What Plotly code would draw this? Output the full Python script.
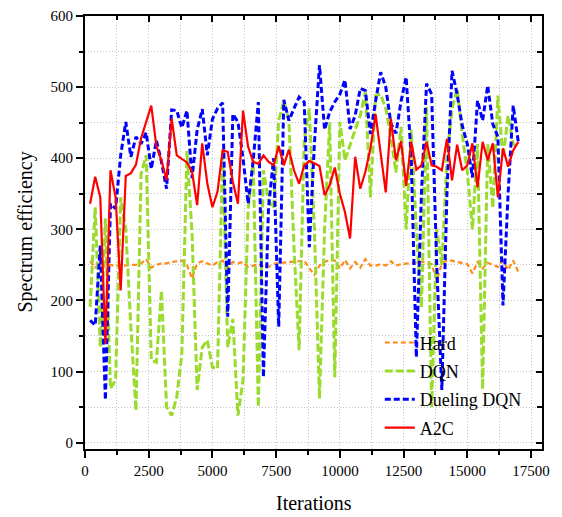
import plotly.graph_objects as go

# Iteration index (sampled every 200 iterations)
iterations = [200 * k for k in range(1, 86)]

hard = [255, 246, 252, 248, 250, 248, 250, 249, 250, 250,
        252, 258, 246, 250, 252, 252, 254, 255, 256, 250,
        231, 252, 255, 252, 249, 254, 256, 246, 254, 252,
        254, 247, 249, 251, 247, 247, 251, 253, 253, 254,
        254, 255, 256, 245, 236, 249, 254, 257, 256, 245,
        257, 245, 254, 246, 258, 249, 249, 251, 249, 255,
        249, 251, 252, 253, 254, 254, 253, 251, 228, 252,
        256, 256, 254, 252, 251, 238, 254, 245, 253, 250,
        247, 256, 243, 256, 240]

dqn = [191, 331, 134, 315, 76, 88, 345, 300, 162, 45,
       378, 404, 116, 113, 214, 50, 38, 64, 125, 410,
       294, 74, 134, 144, 106, 104, 411, 134, 174, 38,
       88, 327, 397, 50, 383, 340, 330, 453, 481, 453,
       275, 130, 425, 470, 300, 62, 300, 450, 92, 451,
       397, 420, 440, 460, 493, 345, 488, 490, 470, 430,
       380, 444, 300, 440, 300, 190, 472, 50, 300, 250,
       400, 470, 498, 434, 380, 300, 420, 75, 420, 330,
       488, 400, 460, 420, 416]

dueling_dqn = [172, 165, 277, 60, 336, 329, 404, 451, 402, 430,
               420, 436, 385, 425, 395, 357, 468, 467, 443, 467,
               372, 440, 469, 404, 455, 470, 478, 177, 462, 451,
               400, 336, 397, 479, 92, 330, 400, 163, 482, 453,
               470, 486, 479, 275, 420, 531, 440, 465, 479, 490,
               510, 441, 460, 498, 495, 434, 480, 521, 500, 449,
               435, 480, 514, 400, 120, 350, 505, 490, 250, 74,
               350, 523, 490, 446, 420, 373, 481, 453, 502, 448,
               430, 193, 350, 474, 423]

a2c = [336, 374, 345, 139, 383, 345, 214, 375, 379, 391,
       428, 451, 474, 417, 397, 369, 456, 404, 399, 394,
       381, 334, 421, 364, 331, 353, 411, 409, 367, 336,
       467, 416, 395, 392, 404, 395, 390, 417, 390, 412,
       383, 364, 390, 396, 393, 389, 348, 362, 387, 350,
       324, 287, 402, 357, 381, 414, 462, 406, 352, 456,
       397, 424, 361, 423, 384, 390, 423, 390, 388, 383,
       427, 369, 419, 383, 390, 421, 359, 423, 397, 421,
       345, 414, 388, 411, 423]

x_range = [0, 17930]
y_range = [-9, 600]

FONT = "Liberation Serif"
GRID = "#c4c4c4"
GRID_DASH = "1px,2px"

fig = go.Figure()

fig.add_trace(go.Scatter(x=iterations, y=hard, name="Hard", mode="lines",
                         legendgroup="a",
                         line=dict(color="#FF8C1A", width=2.2, dash="5px,3px")))
fig.add_trace(go.Scatter(x=iterations, y=dqn, name="DQN", mode="lines",
                         legendgroup="b",
                         line=dict(color="#9ADB2E", width=3, dash="8px,3px")))
fig.add_trace(go.Scatter(x=iterations, y=dueling_dqn, name="Dueling DQN", mode="lines",
                         legendgroup="c",
                         line=dict(color="#0000FF", width=3, dash="6px,3px")))
fig.add_trace(go.Scatter(x=iterations, y=a2c, name="A2C", mode="lines",
                         legendgroup="d",
                         line=dict(color="#FF0000", width=2.2)))

# empty trace that activates the mirrored top/right axes
fig.add_trace(go.Scatter(x=[], y=[], xaxis="x2", yaxis="y2", showlegend=False,
                         hoverinfo="skip"))

axis_common = dict(showline=True, linecolor="black", linewidth=2,
                   zeroline=False, tickcolor="black", automargin=False)

fig.update_layout(
    width=562, height=517,
    margin=dict(l=85, r=20, t=16, b=68),
    paper_bgcolor="white", plot_bgcolor="white",
    font=dict(family=FONT, size=15, color="black"),
    showlegend=True,
    legend=dict(x=0.645, y=0.288, xanchor="left", yanchor="top",
                bgcolor="rgba(0,0,0,0)", borderwidth=0,
                font=dict(family=FONT, size=18, color="black"),
                tracegroupgap=2, traceorder="grouped"),
    xaxis=dict(range=x_range, dtick=2500, tick0=0, tickformat="d",
               ticks="outside", ticklen=7,
               tickwidth=1.5, showgrid=True, gridcolor=GRID, griddash=GRID_DASH,
               gridwidth=1,
               minor=dict(dtick=1250, ticks="outside", ticklen=4, tickcolor="black",
                          showgrid=True, gridcolor=GRID, griddash=GRID_DASH),
               tickfont=dict(family=FONT, size=15),
               **axis_common),
    yaxis=dict(range=y_range, dtick=100, tick0=0, tickformat="d",
               ticks="outside", ticklen=7,
               tickwidth=1.5, showgrid=True, gridcolor=GRID, griddash=GRID_DASH,
               gridwidth=1,
               minor=dict(dtick=50, ticks="outside", ticklen=4, tickcolor="black",
                          showgrid=True, gridcolor=GRID, griddash=GRID_DASH),
               tickfont=dict(family=FONT, size=15),
               **axis_common),
    xaxis2=dict(range=x_range, overlaying="x", side="top", anchor="y2",
                dtick=2500, tick0=0, ticks="inside", ticklen=6, tickwidth=1.5,
                showticklabels=False, showgrid=False,
                minor=dict(dtick=1250, ticks="inside", ticklen=4, tickcolor="black"),
                **axis_common),
    yaxis2=dict(range=y_range, overlaying="y", side="right", anchor="x2",
                dtick=100, tick0=0, ticks="inside", ticklen=6, tickwidth=1.5,
                showticklabels=False, showgrid=False,
                minor=dict(dtick=50, ticks="inside", ticklen=5, tickcolor="black"),
                **axis_common),
)

# axis titles
fig.add_annotation(text="Iterations", xref="paper", yref="paper", x=0.5, y=0,
                   xanchor="center", yanchor="middle", yshift=-54, showarrow=False,
                   font=dict(family=FONT, size=20, color="black"))
fig.add_annotation(text="Spectrum efficiency", xref="paper", yref="paper", x=0, y=0.5,
                   xanchor="center", yanchor="middle", xshift=-60, textangle=-90,
                   showarrow=False, font=dict(family=FONT, size=20, color="black"))

fig.write_html("out.html")
